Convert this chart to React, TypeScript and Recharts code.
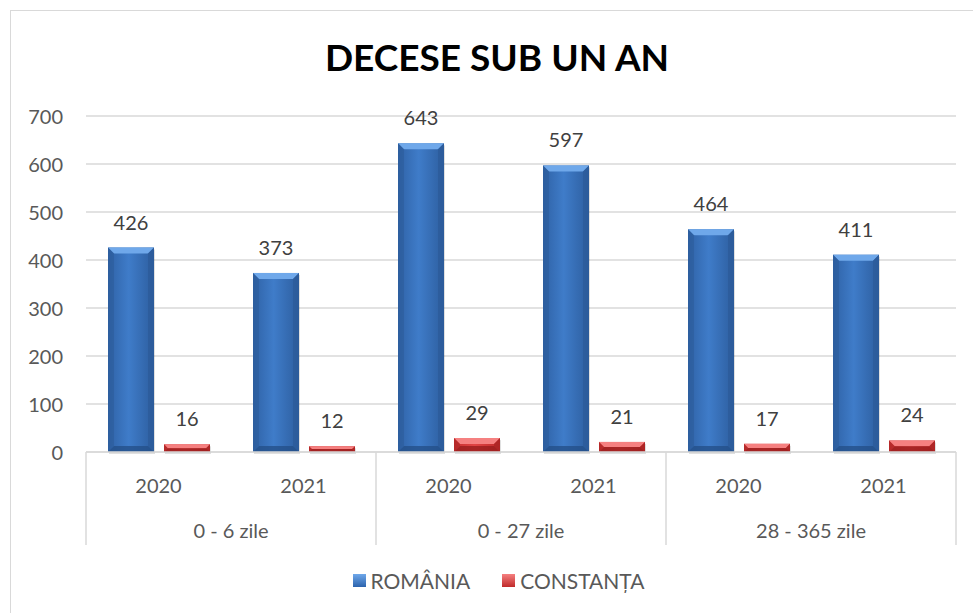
import React from "react";
import { BarChart, Bar, XAxis, YAxis, CartesianGrid, LabelList, Legend } from "recharts";

const years = ["2020", "2021", "2020", "2021", "2020", "2021"];
const groups = ["0 - 6 zile", "0 - 27 zile", "28 - 365 zile"];
const romania = [426, 373, 643, 597, 464, 411];
const constanta = [16, 12, 29, 21, 17, 24];
const yTicks = [0, 100, 200, 300, 400, 500, 600, 700];
const seriesNames = ["ROMÂNIA", "CONSTANȚA"];

const data = years.map((y, i) => ({
  year: y,
  group: groups[Math.floor(i / 2)],
  romania: romania[i],
  constanta: constanta[i],
}));

const W = 973;
const H = 613;
const PLOT_LEFT = 86;
const PLOT_RIGHT = 956;
const PLOT_TOP = 116;
const PLOT_BOTTOM = 452;
const LEGEND_H = 22;
const BAND = (PLOT_RIGHT - PLOT_LEFT) / years.length;
const FONT = "Lato, 'Open Sans', sans-serif";

const makeShape = (kind: "blue" | "red") => (props: any) => {
  const { x, y, width, height } = props;
  if (!height || height <= 0) return <g />;
  const b = Math.min(6, height / 2, width / 4);
  const top = kind === "blue" ? "#6fa8ea" : "#f58080";
  const side = kind === "blue" ? "#2c5b99" : "#a82424";
  const bottom = kind === "blue" ? "#24508a" : "#9a1e1e";
  return (
    <g>
      <rect x={x + 1} y={y + 2} width={width} height={height} fill="rgba(0,0,0,0.12)" />
      <rect x={x} y={y} width={width} height={height} fill={`url(#grad-${kind})`} />
      <polygon
        points={`${x},${y} ${x + width},${y} ${x + width - b},${y + b} ${x + b},${y + b}`}
        fill={top}
      />
      <polygon
        points={`${x},${y} ${x + b},${y + b} ${x + b},${y + height - b} ${x},${y + height}`}
        fill={side}
        opacity={0.55}
      />
      <polygon
        points={`${x + width},${y} ${x + width - b},${y + b} ${x + width - b},${y + height - b} ${x + width},${y + height}`}
        fill={side}
        opacity={0.75}
      />
      <polygon
        points={`${x},${y + height} ${x + b},${y + height - b} ${x + width - b},${y + height - b} ${x + width},${y + height}`}
        fill={bottom}
        opacity={0.8}
      />
    </g>
  );
};

const XTick = (props: any) => {
  const { x, payload, index } = props;
  const axisY = PLOT_BOTTOM;
  const lineBottom = 545;
  const els: any[] = [];
  els.push(
    <text key="y" x={x} y={axisY + 33} textAnchor="middle" dominantBaseline="central" fill="#595959" fontSize={20} fontFamily={FONT}>
      {payload.value}
    </text>
  );
  if (index % 2 === 0) {
    els.push(<line key="l" x1={x - BAND / 2} x2={x - BAND / 2} y1={axisY} y2={lineBottom} stroke="#d9d9d9" strokeWidth={1.5} />);
    els.push(
      <text key="g" x={x + BAND / 2} y={axisY + 78} textAnchor="middle" dominantBaseline="central" fill="#595959" fontSize={20} fontFamily={FONT}>
        {groups[Math.floor(index / 2)]}
      </text>
    );
  }
  if (index === years.length - 1) {
    els.push(<line key="r" x1={x + BAND / 2} x2={x + BAND / 2} y1={axisY} y2={lineBottom} stroke="#d9d9d9" strokeWidth={1.5} />);
  }
  return <g>{els}</g>;
};

const YTick = (props: any) => {
  const { y, payload } = props;
  return (
    <text x={63} y={y} textAnchor="end" dominantBaseline="central" fill="#595959" fontSize={20} fontFamily={FONT}>
      {payload.value}
    </text>
  );
};

const LegendContent = () => (
  <div style={{ display: "flex", justifyContent: "center", alignItems: "center", fontFamily: FONT, fontSize: 21, color: "#595959", height: LEGEND_H, paddingLeft: 24 }}>
    {seriesNames.map((n, i) => (
      <div key={n} style={{ display: "flex", alignItems: "center", marginLeft: i === 0 ? 0 : 32 }}>
        <span
          style={{
            display: "inline-block",
            width: 13,
            height: 13,
            marginRight: 5,
            background: i === 0 ? "linear-gradient(180deg,#6fa8ea,#2c63ad)" : "linear-gradient(180deg,#f58080,#c02a2a)",
          }}
        />
        <span>{n}</span>
      </div>
    ))}
  </div>
);

const labelStyle = { fill: "#404040", fontSize: 20, fontFamily: FONT };

export default function App() {
  return (
    <div style={{ position: "absolute", left: 0, top: 0, width: W, height: H, background: "#fff", overflow: "hidden" }}>
      <div style={{ position: "absolute", left: 10, top: 10, width: 975, height: 620, border: "1.5px solid #d9d9d9", boxSizing: "border-box" }} />
      <div style={{ position: "absolute", left: 0, top: 34, width: 994, textAlign: "center", fontFamily: FONT, fontWeight: 700, fontSize: 37, color: "#000" }}>
        DECESE SUB UN AN
      </div>
      <div style={{ position: "absolute", left: 0, top: 0 }}>
        <BarChart
          width={W}
          height={H}
          data={data}
          margin={{ top: PLOT_TOP, right: W - PLOT_RIGHT, left: PLOT_LEFT - 60, bottom: H - PLOT_BOTTOM - 93 - LEGEND_H }}
          barSize={46}
          barGap={10}
        >
          <defs>
            <linearGradient id="grad-blue" x1="0" y1="0" x2="1" y2="0">
              <stop offset="0%" stopColor="#2f62a6" />
              <stop offset="45%" stopColor="#3f7cc9" />
              <stop offset="100%" stopColor="#2d5e9f" />
            </linearGradient>
            <linearGradient id="grad-red" x1="0" y1="0" x2="1" y2="0">
              <stop offset="0%" stopColor="#c62f2f" />
              <stop offset="45%" stopColor="#e04444" />
              <stop offset="100%" stopColor="#bf2a2a" />
            </linearGradient>
          </defs>
          <CartesianGrid vertical={false} stroke="#d9d9d9" strokeWidth={1.5} />
          <XAxis dataKey="year" height={93} tickLine={false} axisLine={{ stroke: "#d9d9d9", strokeWidth: 1.5 }} tick={<XTick />} interval={0} />
          <YAxis width={60} domain={[0, 700]} ticks={yTicks} axisLine={false} tickLine={false} tick={<YTick />} />
          <Legend
            verticalAlign="bottom"
            height={LEGEND_H}
            content={<LegendContent />}
            wrapperStyle={{ position: "absolute", top: 569, left: 0, width: W, bottom: "auto" }}
          />
          <Bar dataKey="romania" name={seriesNames[0]} fill="#3a72c0" shape={makeShape("blue")} isAnimationActive={false}>
            <LabelList dataKey="romania" position="top" offset={18} style={labelStyle} />
          </Bar>
          <Bar dataKey="constanta" name={seriesNames[1]} fill="#d63a3a" shape={makeShape("red")} isAnimationActive={false}>
            <LabelList dataKey="constanta" position="top" offset={18} style={labelStyle} />
          </Bar>
        </BarChart>
      </div>
    </div>
  );
}
